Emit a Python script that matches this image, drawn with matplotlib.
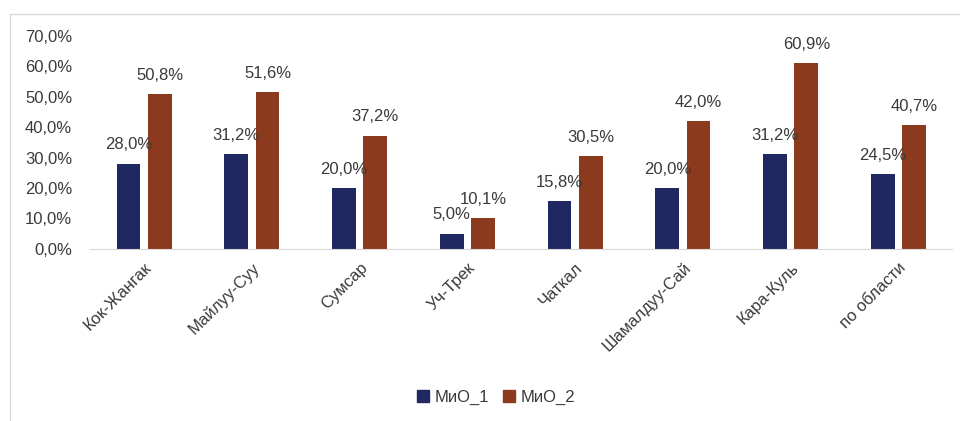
import matplotlib.pyplot as plt
from matplotlib.lines import Line2D
import numpy as np

plt.rcParams['font.family'] = ['Liberation Sans', 'DejaVu Sans']

# data
regions = ['Кок-Жангак', 'Майлуу-Суу', 'Сумсар', 'Уч-Трек', 'Чаткал',
           'Шамалдуу-Сай', 'Кара-Куль', 'по области']
mio_1 = [28.0, 31.2, 20.0, 5.0, 15.8, 20.0, 31.2, 24.5]
mio_2 = [50.8, 51.6, 37.2, 10.1, 30.5, 42.0, 60.9, 40.7]
series_names = ['МиО_1', 'МиО_2']
y_ticks = [0, 10, 20, 30, 40, 50, 60, 70]

BLUE = '#1f2860'
RUST = '#8b3a1e'
TXT = '#3a3a3a'
FS = 12


def pct(v):
    return f'{v:.1f}%'.replace('.', ',')


fig = plt.figure(figsize=(9.6, 4.21), dpi=100)
ax = fig.add_axes([0.094, 0.409, 0.898, 0.506])

x = np.arange(len(regions))
w = 0.22
off = 0.145
b1 = ax.bar(x - off, mio_1, w, color=BLUE)
b2 = ax.bar(x + off, mio_2, w, color=RUST)

for bars, vals in ((b1, mio_1), (b2, mio_2)):
    for rect, v in zip(bars, vals):
        ax.annotate(pct(v), (rect.get_x() + rect.get_width() / 2, rect.get_height()),
                    xytext=(0, 8), textcoords='offset points', ha='center', va='bottom',
                    fontsize=FS, color=TXT)

ax.set_xlim(-0.5, len(regions) - 0.5)
ax.set_ylim(0, 70)
ax.set_yticks(y_ticks)
ax.set_yticklabels([pct(t) for t in y_ticks], fontsize=FS, color=TXT)
ax.set_xticks(x)
ax.set_xticklabels(regions, rotation=45, ha='right', rotation_mode='anchor',
                   fontsize=FS, color=TXT)
ax.tick_params(axis='both', length=0)
ax.tick_params(axis='y', pad=13)
ax.tick_params(axis='x', pad=8)
for s in ('top', 'right', 'left'):
    ax.spines[s].set_visible(False)
ax.spines['bottom'].set_color('#d9d9d9')

handles = [Line2D([], [], marker='s', linestyle='', markersize=8, color=c)
           for c in (BLUE, RUST)]
fig.legend(handles, series_names, loc='center', bbox_to_anchor=(0.515, 0.057),
           ncol=2, frameon=False, fontsize=FS, handletextpad=0.1, handlelength=1.2,
           columnspacing=0.6, labelcolor=TXT)

# outer frame (left and top edges visible in the reference)
fig.add_artist(Line2D([0.0105, 0.0105], [0.0, 0.967], transform=fig.transFigure,
                      color='#d9d9d9', lw=1))
fig.add_artist(Line2D([0.0105, 1.0], [0.967, 0.967], transform=fig.transFigure,
                      color='#d9d9d9', lw=1))

fig.savefig('out.png', dpi=100)
